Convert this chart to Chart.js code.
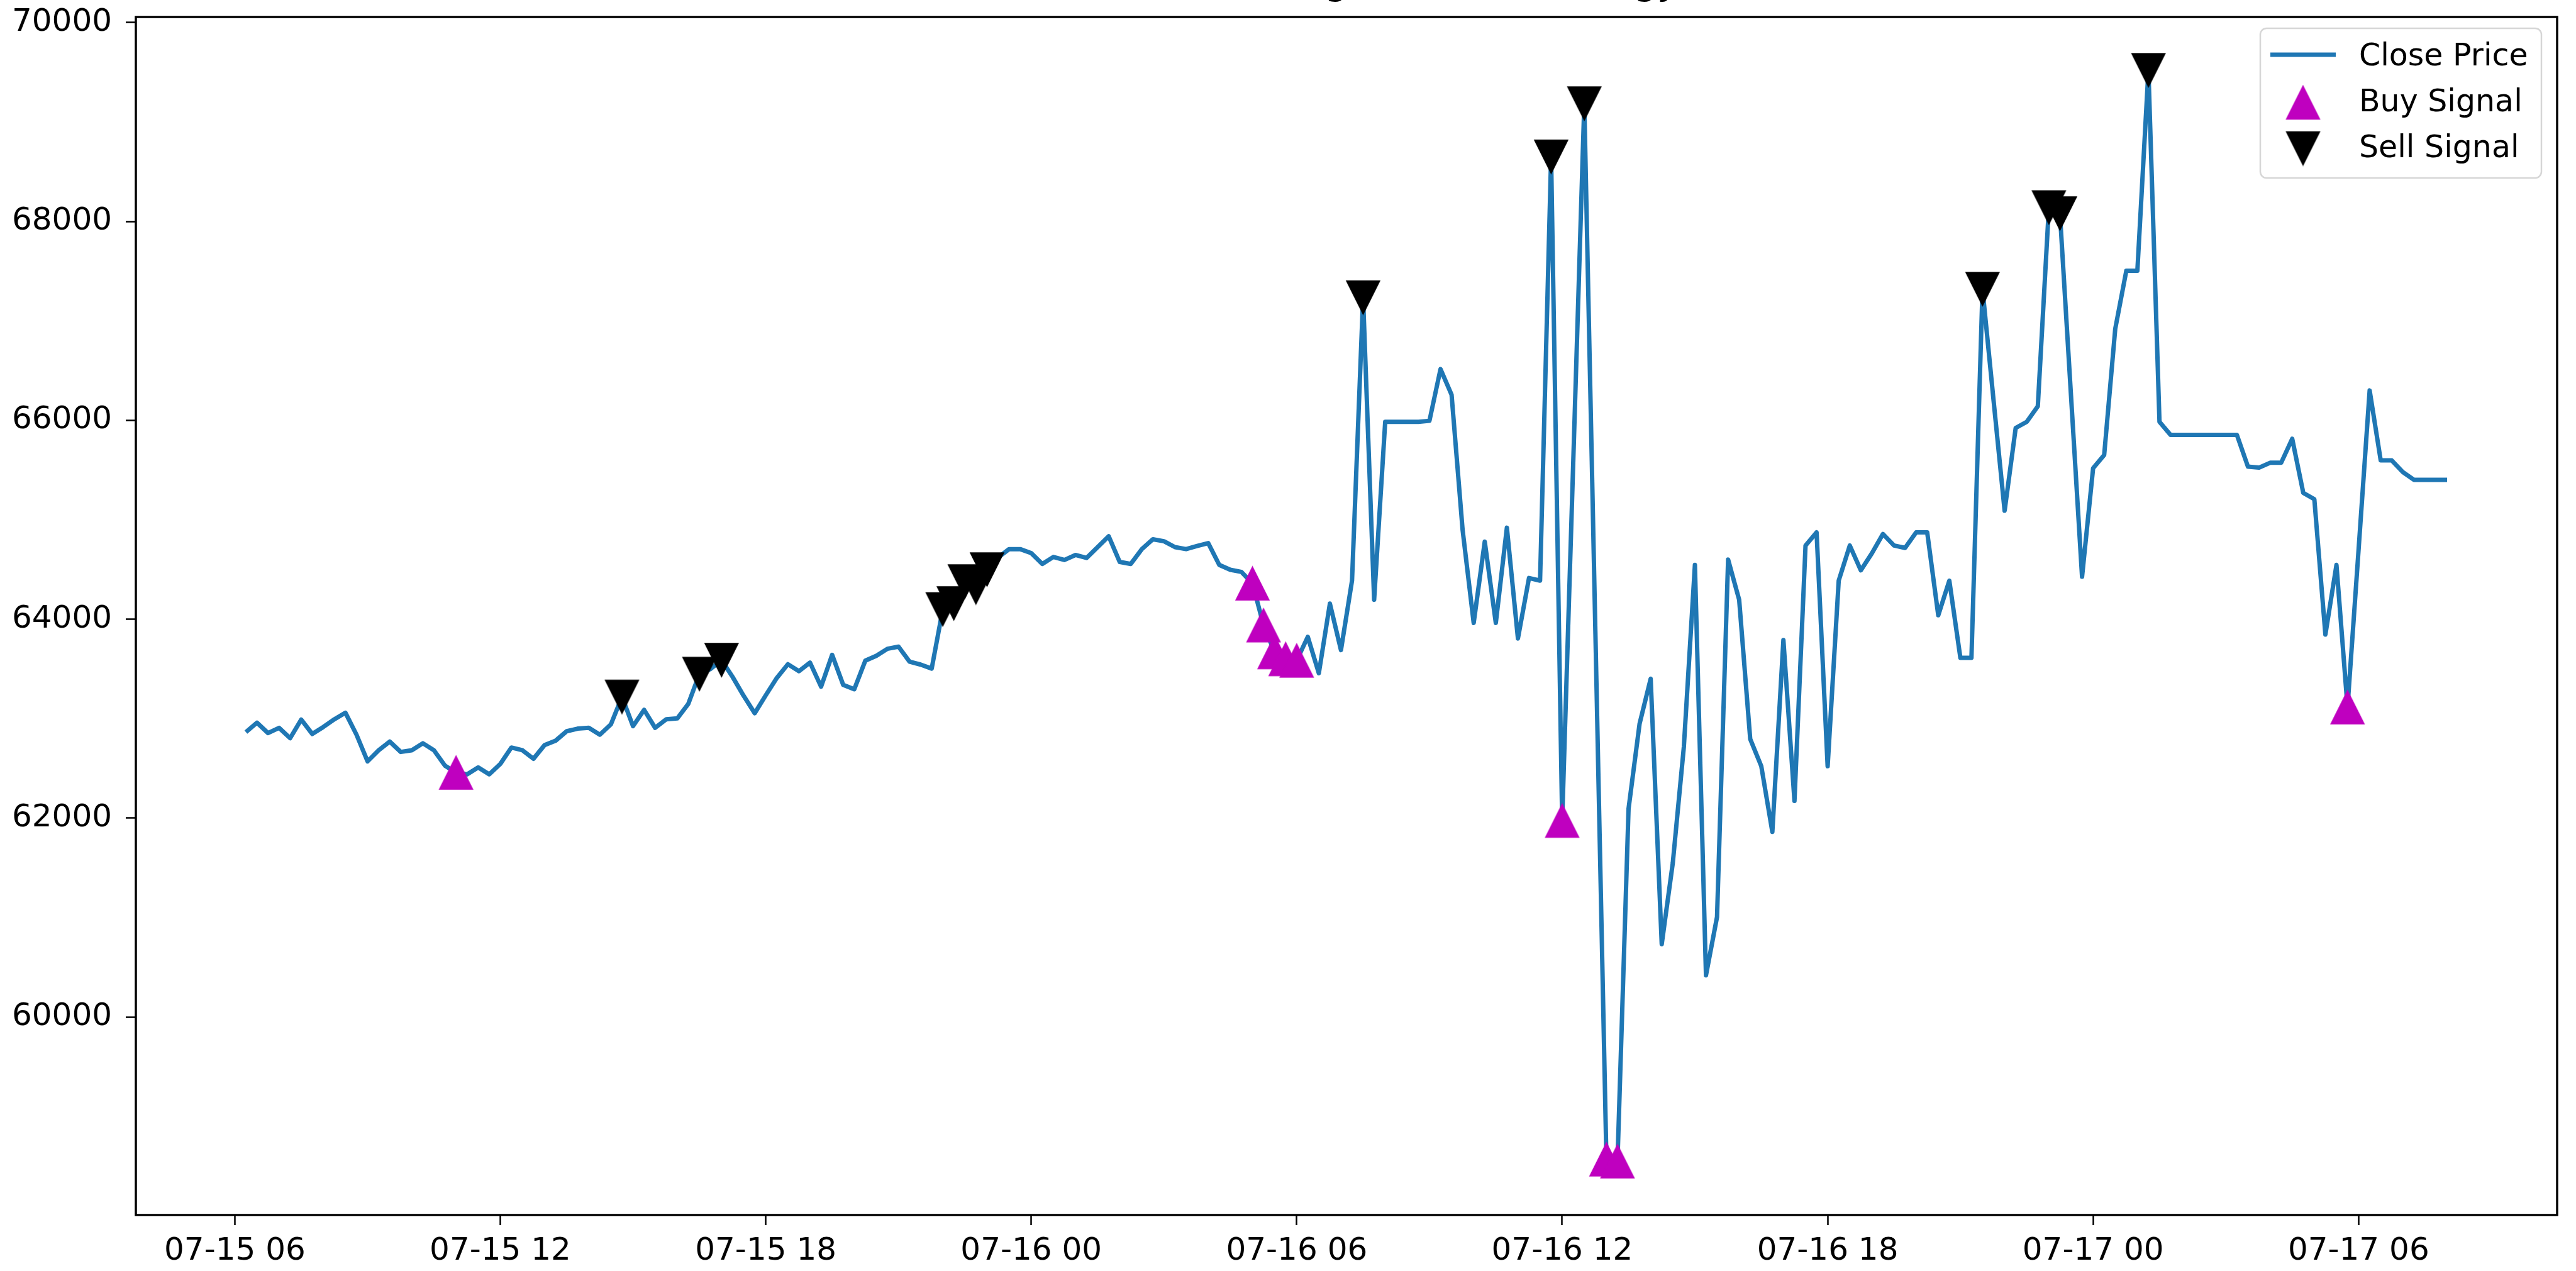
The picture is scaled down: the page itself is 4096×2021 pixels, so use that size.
<!DOCTYPE html>
<html>
<head>
<meta charset="utf-8">
<title>BTC Price with Signals: RSI Strategy</title>
<script src="https://cdn.jsdelivr.net/npm/chart.js@4.4.1/dist/chart.umd.min.js"></script>
<style>
  html, body { margin: 0; padding: 0; background: #ffffff; }
  canvas { display: block; }
</style>
</head>
<body>
<canvas id="chart" width="4096" height="2021"></canvas>
<script>
// ---- data ----------------------------------------------------------------
const chartTitle = 'BTC Price with Signals: RSI Strategy';
const seriesNames = ['Close Price', 'Buy Signal', 'Sell Signal'];

// 15-minute closes starting at 07-15 06:15
const firstTime = '07-15 06:15';
const stepMinutes = 15;

const closePrice = [
  62865, 62960, 62856, 62908, 62804, 62991, 62847, 62917, 62994, 63060,
  62839, 62571, 62683, 62770, 62666, 62683, 62753, 62683, 62528, 62458,
  62441, 62510, 62441, 62545, 62710, 62683, 62597, 62735, 62779, 62874,
  62900, 62908, 62839, 62943, 63220, 62925, 63089, 62908, 62994, 63003,
  63150, 63450, 63500, 63590, 63420, 63230, 63055, 63236, 63410, 63548,
  63478, 63564, 63322, 63642, 63340, 63296, 63584, 63633, 63703, 63724,
  63573, 63544, 63504, 64100, 64160, 64380, 64320, 64500, 64620, 64705,
  64705, 64665, 64556, 64626, 64596, 64646, 64616, 64725, 64834, 64576,
  64556, 64705, 64804, 64784, 64725, 64705, 64736, 64765, 64546, 64497,
  64476, 64360, 63940, 63670, 63600, 63585, 63823, 63457, 64157, 63690,
  64388, 67235, 64196, 65985, 65985, 65985, 65985, 65995, 66515, 66258,
  64896, 63963, 64780, 63963, 64920, 63807, 64414, 64388, 68650, 61975,
  65580, 69185, 63880, 58570, 58550, 62095, 62951, 63402, 60734, 61549,
  62717, 64546, 60420, 61007, 64600, 64196, 62796, 62523, 61862, 63791,
  62173, 64741, 64873, 62523, 64388, 64741, 64492, 64663, 64857, 64741,
  64717, 64873, 64873, 64040, 64388, 63612, 63612, 67320, 66200, 65091,
  65923, 65985, 66141, 68140, 68080, 66250, 64427, 65519, 65651, 66920,
  67503, 67503, 69520, 65985, 65853, 65853, 65853, 65853, 65853, 65853,
  65853, 65534, 65524, 65573, 65573, 65814, 65270, 65207, 63846, 64546,
  63115, 64700, 66300, 65597, 65597, 65480, 65402, 65402, 65402, 65402
];

// positions (in closePrice) where the strategy fired
const buyIndex  = [19, 91, 92, 93, 94, 95, 119, 123, 124, 190];
const sellIndex = [34, 41, 43, 63, 64, 65, 66, 67, 101, 118, 121, 157, 163, 164, 172];

const xTickLabels = ['07-15 06', '07-15 12', '07-15 18', '07-16 00', '07-16 06',
                     '07-16 12', '07-16 18', '07-17 00', '07-17 06'];
const yTickValues = [60000, 62000, 64000, 66000, 68000, 70000];

// ---- helpers -------------------------------------------------------------
// "MM-DD HH[:mm]" -> hours since 07-15 00:00
function hoursOf(label) {
  const parts = label.split(' ');
  const day = parseInt(parts[0].split('-')[1], 10);
  const hm = parts[1].split(':');
  return (day - 15) * 24 + parseInt(hm[0], 10) + (hm[1] ? parseInt(hm[1], 10) / 60 : 0);
}
const t0 = hoursOf(firstTime);
const timeHours = closePrice.map((_, i) => t0 + i * stepMinutes / 60);
const xTickHours = xTickLabels.map(hoursOf);

const linePoints = closePrice.map((v, i) => ({ x: timeHours[i], y: v }));
const buyPoints  = buyIndex.map(i => ({ x: timeHours[i], y: closePrice[i] }));
const sellPoints = sellIndex.map(i => ({ x: timeHours[i], y: closePrice[i] }));

// time axis padded by 5% of the data span on each side
const tMin = timeHours[0], tMax = timeHours[timeHours.length - 1];
const xPad = (tMax - tMin) * 0.05;

const LINE_BLUE = '#1f77b4';
const BUY_MAGENTA = '#bf00bf';
const SELL_BLACK = '#000000';
const FONT = '"DejaVu Sans", "Liberation Sans", sans-serif';
const TICK_FONT = 50;
const MARK = 53;

// filled triangle marker drawn on its own canvas (width == height)
function triangleMarker(color, pointsUp, size) {
  const pad = 2;
  const c = document.createElement('canvas');
  c.width = size + pad * 2;
  c.height = size + pad * 2;
  const g = c.getContext('2d');
  g.fillStyle = color;
  g.strokeStyle = color;
  g.lineWidth = 1.5;
  g.beginPath();
  if (pointsUp) {
    g.moveTo(pad + size / 2, pad);
    g.lineTo(pad + size, pad + size);
    g.lineTo(pad, pad + size);
  } else {
    g.moveTo(pad, pad);
    g.lineTo(pad + size, pad);
    g.lineTo(pad + size / 2, pad + size);
  }
  g.closePath();
  g.fill();
  g.stroke();
  return c;
}
const buyMarker = triangleMarker(BUY_MAGENTA, true, MARK);
const sellMarker = triangleMarker(SELL_BLACK, false, MARK);

// ---- plugins -------------------------------------------------------------
const framePlugin = {
  id: 'frame',
  afterDraw(chart) {
    const { ctx, chartArea: a } = chart;
    ctx.save();
    ctx.strokeStyle = '#000';
    ctx.lineWidth = 3.5;
    ctx.strokeRect(a.left, a.top, a.right - a.left, a.bottom - a.top);

    // title, centred over the axes (it sits mostly above the canvas edge)
    ctx.fillStyle = '#000';
    ctx.font = '59px ' + FONT;
    ctx.textAlign = 'center';
    ctx.textBaseline = 'alphabetic';
    ctx.fillText(chartTitle, (a.left + a.right) / 2, -9);
    ctx.restore();
  }
};

const legendPlugin = {
  id: 'boxLegend',
  afterDraw(chart) {
    const { ctx } = chart;
    const box = { x: 3594, y: 45, w: 447, h: 238, r: 10 };
    ctx.save();
    ctx.beginPath();
    ctx.roundRect(box.x, box.y, box.w, box.h, box.r);
    ctx.fillStyle = 'rgba(255,255,255,0.8)';
    ctx.fill();
    ctx.strokeStyle = 'rgba(204,204,204,0.8)';
    ctx.lineWidth = 2.5;
    ctx.stroke();

    const handleX0 = 3610, handleX1 = 3714, handleMid = (handleX0 + handleX1) / 2;
    const textX = 3751;
    const baselines = [104, 177, 250];

    ctx.strokeStyle = LINE_BLUE;
    ctx.lineWidth = 7;
    ctx.beginPath();
    ctx.moveTo(handleX0, 87);
    ctx.lineTo(handleX1, 87);
    ctx.stroke();

    ctx.drawImage(buyMarker, handleMid - buyMarker.width / 2, 163 - buyMarker.height / 2);
    ctx.drawImage(sellMarker, handleMid - sellMarker.width / 2, 236 - sellMarker.height / 2);

    ctx.fillStyle = '#000';
    ctx.font = '49px ' + FONT;
    ctx.textAlign = 'left';
    ctx.textBaseline = 'alphabetic';
    seriesNames.forEach((name, k) => ctx.fillText(name, textX, baselines[k]));
    ctx.restore();
  }
};

// ---- chart ---------------------------------------------------------------
Chart.defaults.font.family = FONT;
Chart.defaults.font.size = TICK_FONT;
Chart.defaults.color = '#000';

const tickGrid = {
  display: true,
  drawOnChartArea: false,
  drawTicks: true,
  tickLength: 16,
  tickWidth: 2.5,
  tickColor: '#000'
};

new Chart(document.getElementById('chart'), {
  type: 'scatter',
  data: {
    datasets: [
      {
        label: seriesNames[0],
        data: linePoints,
        showLine: true,
        borderColor: LINE_BLUE,
        backgroundColor: LINE_BLUE,
        borderWidth: 7,
        borderJoinStyle: 'round',
        pointRadius: 0,
        tension: 0,
        order: 3
      },
      {
        label: seriesNames[1],
        data: buyPoints,
        pointStyle: buyMarker,
        pointRadius: 26,
        order: 2
      },
      {
        label: seriesNames[2],
        data: sellPoints,
        pointStyle: sellMarker,
        pointRadius: 26,
        order: 1
      }
    ]
  },
  options: {
    responsive: false,
    devicePixelRatio: 1,
    animation: false,
    events: [],
    layout: { padding: { left: 0, top: 21.4, right: 30, bottom: 0 } },
    plugins: {
      legend: { display: false },
      tooltip: { enabled: false },
      title: { display: false }
    },
    scales: {
      x: {
        type: 'linear',
        min: tMin - xPad,
        max: tMax + xPad,
        border: { display: false },
        grid: tickGrid,
        ticks: {
          padding: 12,
          maxRotation: 0,
          autoSkip: false,
          font: { size: TICK_FONT },
          callback: (v) => {
            const k = xTickHours.findIndex(h => Math.abs(h - v) < 1e-6);
            return k >= 0 ? xTickLabels[k] : '';
          }
        },
        afterBuildTicks: (scale) => { scale.ticks = xTickHours.map(v => ({ value: v })); },
        afterFit: (scale) => {
          scale.height = 89;
          scale.paddingLeft = 0;
          scale.paddingRight = 0;
        }
      },
      y: {
        type: 'linear',
        min: 58010,
        max: 70055,
        border: { display: false },
        grid: tickGrid,
        ticks: {
          padding: 22,
          font: { size: TICK_FONT },
          callback: (v) => String(v)
        },
        afterBuildTicks: (scale) => { scale.ticks = yTickValues.map(v => ({ value: v })); },
        afterFit: (scale) => {
          scale.width = 216;
          scale.paddingTop = 0;
          scale.paddingBottom = 0;
        }
      }
    }
  },
  plugins: [framePlugin, legendPlugin]
});
</script>
</body>
</html>
